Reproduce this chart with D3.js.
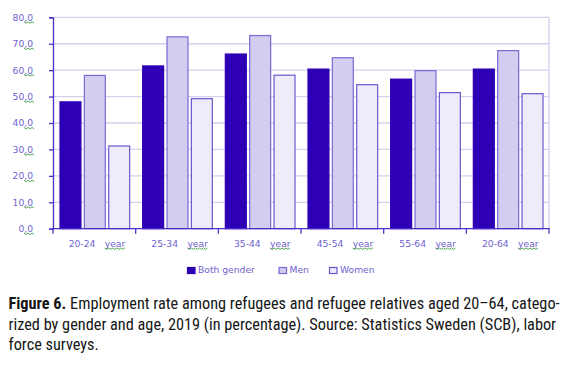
<!DOCTYPE html>
<html><head><meta charset="utf-8">
<script src="https://cdn.jsdelivr.net/npm/d3@7"></script>
<style>
body{margin:0;background:#fff;}
svg{display:block;}
</style></head>
<body>
<svg id="c" width="571" height="366"></svg>
<script>
const categories = ["20-24", "25-34", "35-44", "45-54", "55-64", "20-64"];
const seriesNames = ["Both gender", "Men", "Women"];
const bothValues = [48.0, 61.6, 66.1, 60.4, 56.6, 60.4];
const menValues = [58.0, 72.6, 73.1, 64.7, 59.8, 67.4];
const womenValues = [31.3, 49.2, 58.1, 54.5, 51.5, 51.1];
const yTicks = [0, 10, 20, 30, 40, 50, 60, 70, 80];
const yTickLabels = ["0,0", "10,0", "20,0", "30,0", "40,0", "50,0", "60,0", "70,0", "80,0"];
const unitLabel = "year";
const captionBold = "Figure 6.";
const captionLines = [
  " Employment rate among refugees and refugee relatives aged 20–64, catego-",
  "rized by gender and age, 2019 (in percentage). Source: Statistics Sweden (SCB), labor",
  "force surveys."
];

(function(){
const fills = ["#2E00B5", "#D3CDEF", "#EDECFB"];
const strokes = ["#2E00B5", "#7A68D6", "#6A58D0"];
const seriesVals = [bothValues, menValues, womenValues];

const svg = d3.select("#c");
const pLeft = 53, pRight = 549, pTop = 17.3, pBottom = 228.7;

const x0 = d3.scaleBand().domain(categories).range([pLeft, pRight]).padding(0);
const x1 = d3.scaleBand().domain(seriesNames).range([7, x0.bandwidth() - 6]).paddingInner(0.14).paddingOuter(0);
const y = d3.scaleLinear().domain([0, 80]).range([pBottom, pTop]);

// gridlines
svg.append("g").selectAll("line").data(yTicks.filter(d => d > 0)).join("line")
  .attr("x1", pLeft).attr("x2", pRight)
  .attr("y1", d => y(d)).attr("y2", d => y(d))
  .attr("stroke", "#D4D0EE").attr("stroke-width", 1.3);
svg.append("line").attr("x1", pRight).attr("x2", pRight).attr("y1", pTop).attr("y2", pBottom)
  .attr("stroke", "#D4D0EE").attr("stroke-width", 1.3);

// bars
const groups = svg.append("g").selectAll("g").data(categories).join("g")
  .attr("transform", d => `translate(${x0(d)},0)`);
groups.each(function(cat, i) {
  d3.select(this).selectAll("rect").data(seriesNames).join("rect")
    .attr("x", s => x1(s))
    .attr("width", x1.bandwidth())
    .attr("y", (s, j) => y(seriesVals[j][i]))
    .attr("height", (s, j) => pBottom - y(seriesVals[j][i]))
    .attr("fill", (s, j) => fills[j])
    .attr("stroke", (s, j) => strokes[j])
    .attr("stroke-width", 1.2);
});

function squiggle(g, x, yy, w) {
  g.append("path").attr("d", `M${x},${yy}` + d3.range(Math.floor(w/2)).map(k => ` l2,${k%2===0?1.4:-1.4}`).join(""))
    .attr("fill", "none").attr("stroke", "#3C9A3C").attr("stroke-width", 0.9);
}

// y axis
const yAxis = d3.axisLeft(y).tickValues(yTicks).tickSize(4).tickFormat((d, i) => yTickLabels[i]);
const yg = svg.append("g").attr("transform", `translate(${pLeft},0)`).call(yAxis);
yg.select(".domain").attr("stroke", "#4B2FCB").attr("stroke-width", 1.3);
yg.selectAll(".tick line").attr("stroke", "#4B2FCB").attr("stroke-width", 1.3);
yg.selectAll(".tick text").attr("x", -20).attr("fill", "#6E62CF")
  .attr("font-family", "DejaVu Sans").attr("font-size", 9.2);
yg.selectAll(".tick").each(function(d) {
  const t = d3.select(this).select("text");
  const bb = t.node().getBBox();
  squiggle(d3.select(this), bb.x + bb.width - 9, bb.y + bb.height - 1, 10);
});

// x axis
const xAxis = d3.axisBottom(x0).tickSize(5).tickFormat("");
const xg = svg.append("g").attr("transform", `translate(0,${pBottom})`).call(xAxis);
xg.select(".domain").attr("stroke", "#4B2FCB").attr("stroke-width", 1.3).attr("d", `M${pLeft},5V0H${pRight}V5`);
xg.selectAll(".tick").remove();
xg.selectAll(".bt").data(categories.slice(1)).join("line").attr("class", "bt")
  .attr("x1", d => x0(d)).attr("x2", d => x0(d)).attr("y1", 0).attr("y2", 5)
  .attr("stroke", "#4B2FCB").attr("stroke-width", 1.3);

const xl = svg.append("g");
categories.forEach(c => {
  const cx = x0(c);
  xl.append("text").attr("x", cx + 29).attr("y", 247).attr("text-anchor", "middle")
    .attr("fill", "#6E62CF").attr("font-family", "DejaVu Sans").attr("font-size", 9.2).text(c);
  const t = xl.append("text").attr("x", cx + 62).attr("y", 247).attr("text-anchor", "middle")
    .attr("fill", "#6E62CF").attr("font-family", "DejaVu Sans").attr("font-size", 9.2).text(unitLabel);
  const bb = t.node().getBBox();
  squiggle(xl, bb.x, bb.y + bb.height - 1, bb.width);
});

// legend
const legX = [187.5, 279, 329.5];
const lg = svg.append("g");
seriesNames.forEach((s, j) => {
  lg.append("rect").attr("x", legX[j]).attr("y", 267.5).attr("width", 7.5).attr("height", 6)
    .attr("fill", fills[j]).attr("stroke", strokes[j]).attr("stroke-width", 1.2);
  lg.append("text").attr("x", legX[j] + 10.5).attr("y", 273).attr("fill", "#6E62CF")
    .attr("font-family", "DejaVu Sans").attr("font-size", 9.2).text(s);
});

// caption
const cap = svg.append("g").attr("font-family", "Liberation Sans Narrow, Roboto Condensed, Arial Narrow, sans-serif")
  .attr("font-size", 16.3).attr("fill", "#151515");
const l1 = cap.append("text").attr("x", 8.5).attr("y", 309);
l1.append("tspan").attr("font-weight", "bold").text(captionBold);
l1.append("tspan").text(captionLines[0]);
cap.append("text").attr("x", 8.5).attr("y", 329.5).text(captionLines[1]);
cap.append("text").attr("x", 8.5).attr("y", 350).text(captionLines[2]);
})();
</script>
</body></html>
